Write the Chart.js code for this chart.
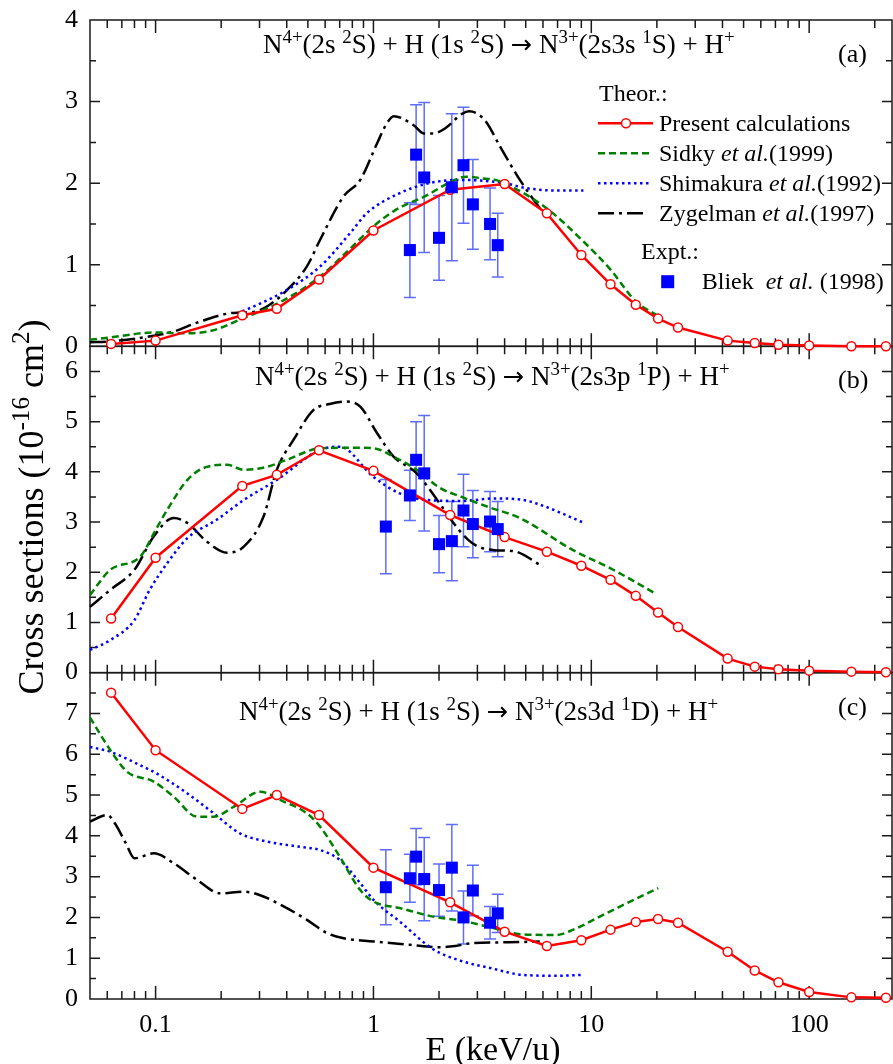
<!DOCTYPE html>
<html>
<head>
<meta charset="utf-8">
<script src="https://cdn.jsdelivr.net/npm/chart.js@4.4.0/dist/chart.umd.min.js"></script>
<style>
  body { margin: 0; background: #fff; }
  #contenedor { width: 893px; height: 1064px; }
</style>
</head>
<body>
<div id="contenedor"><canvas id="graficaSecciones" width="893" height="1064"></canvas></div>
<script>
// Energías (keV/u) de los cálculos presentes, iguales en los tres paneles
const presentE = [0.0625, 0.1, 0.25, 0.36, 0.5625, 1, 2.25, 4, 6.25, 9, 12.25, 16, 20.25, 25, 42.25, 56.25, 72.25, 100, 156.25, 225];
const present3s = [0.03, 0.07, 0.38, 0.46, 0.82, 1.42, 1.92, 1.99, 1.63, 1.12, 0.76, 0.51, 0.34, 0.23, 0.07, 0.04, 0.02, 0.01, 0.0, 0.0];
const present3p = [1.08, 2.29, 3.72, 3.94, 4.43, 4.02, 3.14, 2.70, 2.41, 2.13, 1.85, 1.53, 1.20, 0.91, 0.28, 0.12, 0.07, 0.04, 0.02, 0.01];
const present3d = [7.51, 6.10, 4.66, 5.00, 4.51, 3.22, 2.37, 1.65, 1.30, 1.44, 1.70, 1.89, 1.96, 1.87, 1.16, 0.70, 0.41, 0.17, 0.04, 0.03];

// Sidky et al. (1999)
const sidky3sE = [0.05, 0.062, 0.1, 0.13, 0.18, 0.25, 0.36, 0.56, 0.75, 1.0, 1.26, 1.79, 2.13, 2.68, 3.14, 3.62, 4.0, 6.25, 9.0, 12.25, 16.0, 20.0];
const sidky3s = [0.08, 0.11, 0.17, 0.16, 0.19, 0.34, 0.52, 0.84, 1.15, 1.47, 1.67, 1.86, 1.98, 2.08, 2.06, 2.04, 2.0, 1.69, 1.31, 0.94, 0.55, 0.38];
const sidky3pE = [0.05, 0.062, 0.085, 0.1, 0.113, 0.14, 0.172, 0.213, 0.254, 0.325, 0.40, 0.57, 0.78, 1.0, 1.24, 1.58, 2.02, 2.54, 3.37, 4.7, 8.25, 12.6, 19.6];
const sidky3p = [1.55, 2.05, 2.31, 2.84, 3.24, 3.84, 4.10, 4.14, 4.04, 4.10, 4.24, 4.47, 4.48, 4.47, 4.30, 4.04, 3.68, 3.50, 3.30, 3.08, 2.44, 2.05, 1.58];
const sidky3dE = [0.05, 0.062, 0.074, 0.098, 0.121, 0.155, 0.185, 0.228, 0.302, 0.387, 0.495, 0.57, 0.70, 0.87, 1.0, 1.32, 1.88, 2.54, 3.43, 4.7, 6.9, 8.27, 11.7, 20.3];
const sidky3d = [6.9, 6.10, 5.57, 5.33, 4.96, 4.47, 4.47, 4.71, 5.08, 4.84, 4.55, 4.22, 3.49, 2.67, 2.39, 2.23, 2.02, 1.92, 1.76, 1.59, 1.57, 1.70, 2.10, 2.72];

// Shimakura et al. (1992)
const shima3sE = [0.25, 0.3, 0.4, 0.57, 0.8, 0.93, 1.3, 1.8, 2.5, 4.0, 5.0, 7.0, 9.2];
const shima3s = [0.43, 0.52, 0.69, 0.98, 1.42, 1.63, 1.87, 2.0, 2.04, 2.0, 1.94, 1.91, 1.91];
const shima3pE = [0.05, 0.062, 0.08, 0.094, 0.113, 0.14, 0.19, 0.254, 0.36, 0.57, 0.70, 1.0, 1.32, 1.76, 2.54, 3.6, 4.7, 5.6, 9.2];
const shima3p = [0.45, 0.65, 1.05, 1.65, 2.18, 2.68, 3.04, 3.44, 3.84, 4.44, 4.50, 3.90, 3.57, 3.44, 3.42, 3.47, 3.45, 3.37, 2.99];
const shima3dE = [0.05, 0.062, 0.085, 0.101, 0.14, 0.185, 0.244, 0.325, 0.46, 0.57, 0.70, 0.87, 1.0, 1.32, 1.88, 2.54, 3.43, 4.87, 6.9, 9.2];
const shima3d = [6.18, 6.06, 5.73, 5.53, 5.04, 4.55, 4.06, 3.86, 3.73, 3.65, 3.41, 2.84, 2.43, 1.90, 1.22, 0.93, 0.76, 0.59, 0.57, 0.59];

// Zygelman et al. (1997)
const zyg3sE = [0.05, 0.062, 0.098, 0.121, 0.155, 0.228, 0.28, 0.33, 0.387, 0.495, 0.57, 0.73, 0.87, 1.04, 1.15, 1.24, 1.53, 1.70, 1.88, 2.13, 2.55, 2.75, 3.25, 3.81, 4.7, 6.03];
const zyg3s = [0.05, 0.06, 0.13, 0.18, 0.29, 0.41, 0.42, 0.5, 0.65, 0.98, 1.31, 1.84, 2.04, 2.49, 2.73, 2.82, 2.71, 2.61, 2.61, 2.67, 2.85, 2.88, 2.77, 2.45, 2.04, 1.63];
const zyg3pE = [0.05, 0.062, 0.08, 0.098, 0.121, 0.14, 0.172, 0.213, 0.254, 0.313, 0.36, 0.43, 0.53, 0.63, 0.755, 0.87, 1.04, 1.24, 1.58, 2.06, 2.37, 2.73, 3.03, 3.6, 4.4, 6.0];
const zyg3p = [1.31, 1.65, 2.05, 2.71, 3.08, 2.98, 2.61, 2.39, 2.51, 3.11, 4.04, 4.64, 5.23, 5.35, 5.40, 5.30, 4.77, 4.30, 3.97, 3.31, 2.94, 2.64, 2.51, 2.44, 2.42, 2.11];
const zyg3dE = [0.05, 0.06, 0.065, 0.073, 0.08, 0.098, 0.121, 0.155, 0.198, 0.254, 0.30, 0.387, 0.495, 0.61, 0.73, 1.0, 1.47, 1.99, 2.37, 2.83, 4.16, 5.8];
const zyg3d = [4.35, 4.51, 4.31, 3.82, 3.45, 3.57, 3.33, 2.92, 2.59, 2.63, 2.55, 2.27, 1.94, 1.62, 1.49, 1.41, 1.33, 1.27, 1.30, 1.37, 1.39, 1.41];

// Bliek et al. (1998), experimento con barras de error
const bliek3sE = [1.47, 1.57, 1.71, 2.0, 2.29, 2.59, 2.86, 3.43, 3.72];
const bliek3s = [1.18, 2.35, 2.07, 1.33, 1.95, 2.22, 1.74, 1.50, 1.24];
const bliek3sErr = [0.58, 0.61, 0.92, 0.52, 0.90, 0.71, 0.55, 0.44, 0.39];
const bliekE = [1.14, 1.47, 1.57, 1.71, 2.0, 2.29, 2.59, 2.86, 3.43, 3.72];
const bliek3p = [2.91, 3.53, 4.24, 3.97, 2.56, 2.62, 3.23, 2.96, 3.01, 2.86];
const bliek3pErr = [0.94, 0.50, 0.76, 1.15, 0.57, 0.79, 0.72, 0.67, 0.60, 0.55];
const bliek3d = [2.74, 2.96, 3.49, 2.94, 2.67, 3.22, 2.00, 2.66, 1.87, 2.10];
const bliek3dErr = [0.92, 0.59, 0.69, 1.02, 0.64, 1.06, 0.65, 0.62, 0.40, 0.47];

// Ejes
const xTickValues = [0.1, 1, 10, 100];
const xTickLabels = ['0.1', '1', '10', '100'];
const yMax = [4, 6.5, 8];
const yLabelMax = [4, 6, 7];

// Textos
const titulos = [
  [['N', ''], ['4+', 'sup'], ['(2s ', ''], ['2', 'sup'], ['S) + H (1s ', ''], ['2', 'sup'], ['S) ', ''], ['\u2192', 'f'], [' N', ''], ['3+', 'sup'], ['(2s3s ', ''], ['1', 'sup'], ['S) + H', ''], ['+', 'sup']],
  [['N', ''], ['4+', 'sup'], ['(2s ', ''], ['2', 'sup'], ['S) + H (1s ', ''], ['2', 'sup'], ['S) ', ''], ['\u2192', 'f'], [' N', ''], ['3+', 'sup'], ['(2s3p ', ''], ['1', 'sup'], ['P) + H', ''], ['+', 'sup']],
  [['N', ''], ['4+', 'sup'], ['(2s ', ''], ['2', 'sup'], ['S) + H (1s ', ''], ['2', 'sup'], ['S) ', ''], ['\u2192', 'f'], [' N', ''], ['3+', 'sup'], ['(2s3d ', ''], ['1', 'sup'], ['D) + H', ''], ['+', 'sup']]
];
const letras = ['(a)', '(b)', '(c)'];
const leyendaTeor = [
  [['Present calculations', '']],
  [['Sidky ', ''], ['et al.', 'i'], ['(1999)', '']],
  [['Shimakura ', ''], ['et al.', 'i'], ['(1992)', '']],
  [['Zygelman ', ''], ['et al.', 'i'], ['(1997)', '']]
];
const leyendaExp = [['Bliek  ', ''], ['et al.', 'i'], [' (1998)', '']];
const tituloY = [['Cross sections (10', ''], ['-16', 'sup'], [' cm', ''], ['2', 'sup'], [')', '']];
const tituloX = 'E (keV/u)';

const FUENTE = '"Liberation Serif", "Times New Roman", serif';
const FUENTE_FLECHA = '"DejaVu Sans", sans-serif';
const ROJO = '#ff0000', VERDE = '#008000', AZUL = '#0000ff', NEGRO = '#000000';

const estilos = {
  present: { borderColor: ROJO, borderWidth: 2.5, pointRadius: 4.5, pointBorderWidth: 1.5, pointBackgroundColor: '#ffffff', pointBorderColor: ROJO, tension: 0, order: 1 },
  sidky: { borderColor: VERDE, borderWidth: 2.5, borderDash: [7, 4], pointRadius: 0, cubicInterpolationMode: 'monotone', order: 2 },
  shima: { borderColor: AZUL, borderWidth: 2.5, borderDash: [2.5, 3.5], pointRadius: 0, cubicInterpolationMode: 'monotone', order: 3 },
  zyg: { borderColor: NEGRO, borderWidth: 2.5, borderDash: [16, 5, 3, 5], pointRadius: 0, cubicInterpolationMode: 'monotone', order: 4 },
  bliek: { showLine: false, pointStyle: 'rect', pointRadius: 8.5, pointBorderWidth: 0, pointBackgroundColor: AZUL, pointBorderColor: AZUL, order: 0 }
};

function puntos(xs, ys) {
  return xs.map((x, i) => ({ x: x, y: ys[i] }));
}

function serie(estilo, yAxisID, xs, ys, extra) {
  return Object.assign({ data: puntos(xs, ys), yAxisID: yAxisID, clip: false, fill: false }, estilos[estilo], extra || {});
}

const datasets = [
  serie('bliek', 'ya', bliek3sE, bliek3s, { errores: bliek3sErr }),
  serie('present', 'ya', presentE, present3s),
  serie('sidky', 'ya', sidky3sE, sidky3s),
  serie('shima', 'ya', shima3sE, shima3s),
  serie('zyg', 'ya', zyg3sE, zyg3s),
  serie('bliek', 'yb', bliekE, bliek3p, { errores: bliek3pErr }),
  serie('present', 'yb', presentE, present3p),
  serie('sidky', 'yb', sidky3pE, sidky3p),
  serie('shima', 'yb', shima3pE, shima3p),
  serie('zyg', 'yb', zyg3pE, zyg3p),
  serie('bliek', 'yc', bliekE, bliek3d, { errores: bliek3dErr }),
  serie('present', 'yc', presentE, present3d),
  serie('sidky', 'yc', sidky3dE, sidky3d),
  serie('shima', 'yc', shima3dE, shima3d),
  serie('zyg', 'yc', zyg3dE, zyg3d)
];

function fuentePara(s, size) {
  if (s === 'sup') return (size * 0.7) + 'px ' + FUENTE;
  if (s === 'i') return 'italic ' + size + 'px ' + FUENTE;
  if (s === 'f') return (size * 0.95) + 'px ' + FUENTE_FLECHA;
  return size + 'px ' + FUENTE;
}

// Dibuja texto con superíndices / cursiva, devuelve la x final
function textoRico(ctx, partes, x, y, size) {
  partes.forEach(([t, s]) => {
    ctx.font = fuentePara(s, size);
    ctx.fillText(t, x, s === 'sup' ? y - size * 0.38 : y);
    x += ctx.measureText(t).width;
  });
  return x;
}

function anchoRico(ctx, partes, size) {
  let w = 0;
  partes.forEach(([t, s]) => {
    ctx.font = fuentePara(s, size);
    w += ctx.measureText(t).width;
  });
  return w;
}

const PANELES = ['ya', 'yb', 'yc'];

// Marco de cada panel con marcas hacia dentro
const marco = {
  id: 'marco',
  beforeDatasetsDraw(chart) {
    const ctx = chart.ctx;
    const x = chart.scales.x;
    ctx.save();
    ctx.strokeStyle = '#1a1a1a';
    ctx.lineWidth = 1.5;
    PANELES.forEach(id => {
      const y = chart.scales[id];
      const l = x.left, r = x.right, t = y.top, b = y.bottom;
      ctx.strokeRect(l, t, r - l, b - t);
      ctx.beginPath();
      for (let v = y.min + 0.5; v < y.max - 1e-6; v += 0.5) {
        const py = y.getPixelForValue(v);
        const len = Math.abs(v - Math.round(v)) < 1e-6 ? 10 : 6;
        ctx.moveTo(l, py); ctx.lineTo(l + len, py);
        ctx.moveTo(r, py); ctx.lineTo(r - len, py);
      }
      x.ticks.forEach(tk => {
        const v = tk.value;
        if (v <= x.min * 1.0001 || v >= x.max * 0.9999) return;
        const e = Math.floor(Math.log10(v) + 1e-9);
        const m = v / Math.pow(10, e);
        if (Math.abs(m - Math.round(m)) > 1e-6) return;
        const len = Math.round(m) === 1 ? 13 : 8;
        const px = x.getPixelForValue(v);
        ctx.moveTo(px, b); ctx.lineTo(px, b - len);
        ctx.moveTo(px, t); ctx.lineTo(px, t + len);
      });
      ctx.stroke();
    });
    ctx.restore();
  }
};

// Barras de error de los datos experimentales
const barrasError = {
  id: 'barrasError',
  beforeDatasetsDraw(chart) {
    const ctx = chart.ctx;
    const x = chart.scales.x;
    ctx.save();
    ctx.strokeStyle = 'rgba(40, 60, 255, 0.75)';
    ctx.lineWidth = 1.5;
    chart.data.datasets.forEach(ds => {
      if (!ds.errores) return;
      const y = chart.scales[ds.yAxisID];
      ds.data.forEach((p, i) => {
        const px = x.getPixelForValue(p.x);
        const y1 = y.getPixelForValue(p.y + ds.errores[i]);
        const y2 = y.getPixelForValue(p.y - ds.errores[i]);
        ctx.beginPath();
        ctx.moveTo(px, y1); ctx.lineTo(px, y2);
        ctx.moveTo(px - 6, y1); ctx.lineTo(px + 6, y1);
        ctx.moveTo(px - 6, y2); ctx.lineTo(px + 6, y2);
        ctx.stroke();
      });
    });
    ctx.restore();
  }
};

function muestraLinea(ctx, estilo, x1, x2, y) {
  const e = estilos[estilo];
  ctx.save();
  ctx.strokeStyle = e.borderColor;
  ctx.lineWidth = e.borderWidth;
  ctx.setLineDash(e.borderDash || []);
  ctx.beginPath(); ctx.moveTo(x1, y); ctx.lineTo(x2, y); ctx.stroke();
  ctx.restore();
}

// Títulos, letras, leyenda y títulos de ejes
const textos = {
  id: 'textos',
  afterDraw(chart) {
    const ctx = chart.ctx;
    ctx.save();
    ctx.fillStyle = '#000';
    ctx.textAlign = 'left';
    ctx.textBaseline = 'alphabetic';
    const tx = [263, 255, 239];
    const ty = [33, 38.7, 47.3];
    PANELES.forEach((id, i) => {
      const s = chart.scales[id];
      textoRico(ctx, titulos[i], tx[i], s.top + ty[i], 27);
      ctx.font = '26px ' + FUENTE;
      ctx.fillText(letras[i], 838, s.top + 42);
    });

    // leyenda del panel (a)
    ctx.font = '24px ' + FUENTE;
    ctx.fillText('Theor.:', 599, 101);
    const est = ['present', 'sidky', 'shima', 'zyg'];
    const fin = [653, 653, 652, 648];
    est.forEach((e, k) => {
      const yl = 123.3 + 30 * k;
      muestraLinea(ctx, e, 598, fin[k], yl);
      if (e === 'present') {
        ctx.save();
        ctx.beginPath();
        ctx.arc(626, yl, estilos.present.pointRadius, 0, Math.PI * 2);
        ctx.fillStyle = '#fff'; ctx.fill();
        ctx.lineWidth = estilos.present.pointBorderWidth; ctx.strokeStyle = ROJO; ctx.stroke();
        ctx.restore();
      }
      textoRico(ctx, leyendaTeor[k], 659, 131 + 30 * k, 24);
    });
    ctx.font = '24px ' + FUENTE;
    ctx.fillText('Expt.:', 641, 259);
    ctx.fillStyle = AZUL;
    ctx.fillRect(661.2, 275.2, 13, 13);
    ctx.fillStyle = '#000';
    textoRico(ctx, leyendaExp, 701.7, 289, 24);

    // título eje x
    ctx.font = '34px ' + FUENTE;
    ctx.textAlign = 'center';
    ctx.fillText(tituloX, 493, 1060);

    // título eje y, rotado
    ctx.textAlign = 'left';
    const w = anchoRico(ctx, tituloY, 36);
    ctx.translate(43, 507);
    ctx.rotate(-Math.PI / 2);
    textoRico(ctx, tituloY, -w / 2, 0, 36);
    ctx.restore();
  }
};

function ejeY(i) {
  return {
    type: 'linear',
    position: 'left',
    stack: 'paneles',
    stackWeight: 1,
    min: 0,
    max: yMax[i],
    grid: { display: false, drawTicks: false },
    border: { display: false },
    ticks: {
      stepSize: 1,
      includeBounds: false,
      autoSkip: false,
      padding: 12,
      color: '#000',
      font: { family: FUENTE, size: 26 },
      callback: v => (v <= yLabelMax[i] ? String(v) : '')
    },
    afterFit: s => { s.width = 90; s.paddingTop = 0; s.paddingBottom = 0; }
  };
}

function crearGrafica() {
  const ctx = document.getElementById('graficaSecciones').getContext('2d');
  new Chart(ctx, {
    type: 'line',
    data: { datasets: datasets },
    options: {
      responsive: false,
      animation: false,
      devicePixelRatio: 1,
      events: [],
      layout: { autoPadding: false, padding: { top: 20, right: 1, left: 0, bottom: 0 } },
      plugins: { legend: { display: false }, tooltip: { enabled: false } },
      scales: {
        x: {
          type: 'logarithmic',
          position: 'bottom',
          min: 0.05,
          max: 240,
          // marcas invisibles: solo desplazan las etiquetas hacia abajo
          grid: { display: false, drawTicks: true, tickLength: 11 },
          border: { display: false },
          ticks: {
            autoSkip: false,
            maxRotation: 0,
            padding: 0,
            color: '#000',
            font: { family: FUENTE, size: 26 },
            callback: v => {
              const k = xTickValues.findIndex(t => Math.abs(t - v) < t * 1e-6);
              return k >= 0 ? xTickLabels[k] : '';
            }
          },
          afterFit: s => { s.height = 65; s.paddingLeft = 0; s.paddingRight = 0; }
        },
        yc: ejeY(2),
        yb: ejeY(1),
        ya: ejeY(0)
      }
    },
    plugins: [marco, barrasError, textos]
  });
}

document.addEventListener('DOMContentLoaded', crearGrafica);
</script>
</body>
</html>
